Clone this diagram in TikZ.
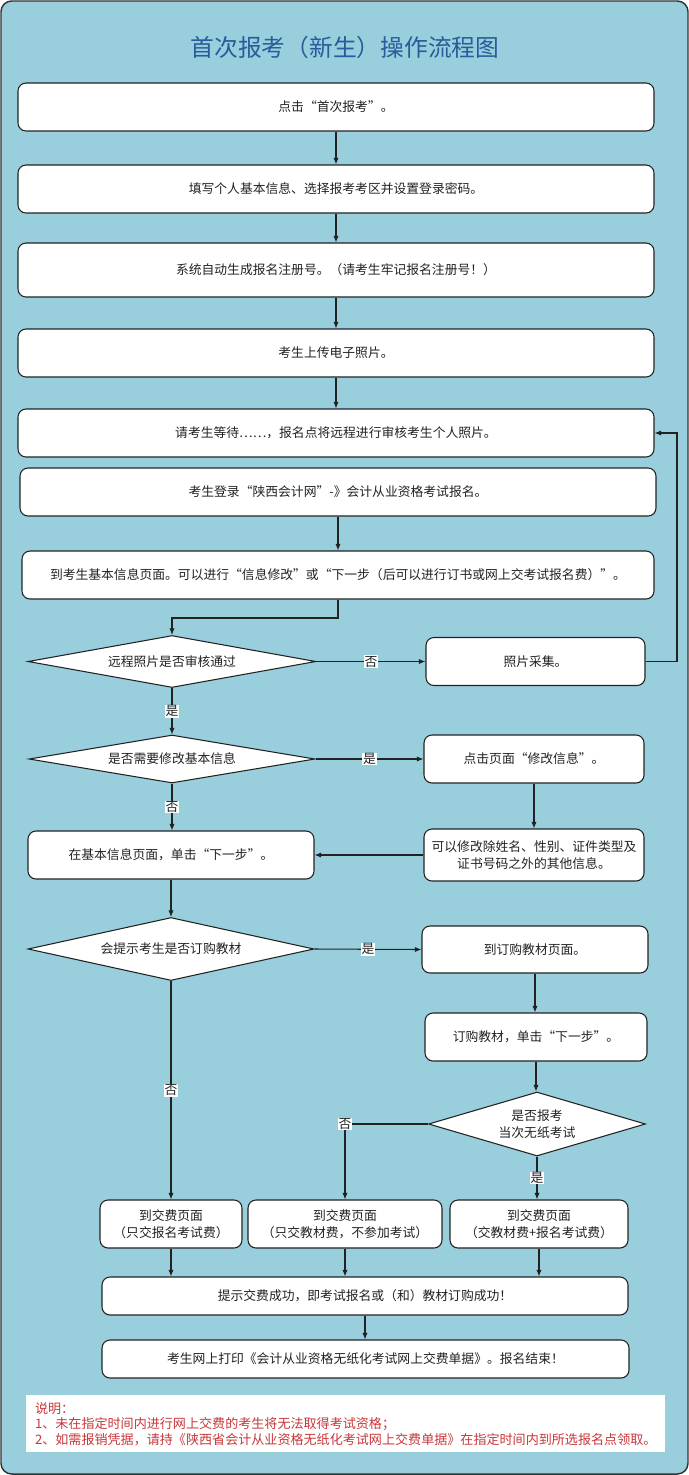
\documentclass[tikz,border=0pt]{standalone}
\usepackage{fontspec}
\setmainfont{Noto Sans CJK SC}
\usetikzlibrary{shapes.geometric,arrows.meta,calc}
\definecolor{bgblue}{HTML}{99CFDD}
\definecolor{titleblue}{HTML}{2A5B9A}
\definecolor{notered}{HTML}{C8373A}
\definecolor{ink}{HTML}{222222}
\begin{document}
\begin{tikzpicture}[x=0.75pt,y=-0.75pt,
  txt/.style={font=\fontsize{9.6}{12.5}\selectfont, text=ink},
  box/.style={txt, draw=ink, fill=white, rounded corners=6pt, line width=0.8pt, inner sep=1pt, align=center},
  dia/.style={txt, draw=ink, fill=white, diamond, inner sep=0pt, line width=0.8pt, align=center},
  arr/.style={-{Latex[length=5pt,width=4pt]}, line width=0.8pt, draw=ink},
  lbl/.style={txt, fill=white, inner sep=0.6pt}]
\useasboundingbox (0,0) rectangle (689,1475);
\draw[fill=bgblue, draw=black!80, line width=1.1pt, rounded corners=8pt] (1,1) rectangle (688,1474);

\node[font=\fontsize{17.8}{20}\selectfont, text=titleblue] (title) at (345,47) {首次报考（新生）操作流程图};

\node[box, minimum width=477pt, minimum height=36pt] (b1) at (336,107) {点击“首次报考”。};
\node[box, minimum width=477pt, minimum height=36pt] (b2) at (336,189) {填写个人基本信息、选择报考考区并设置登录密码。};
\node[box, minimum width=477pt, minimum height=40.5pt] (b3) at (336,270) {系统自动生成报名注册号。（请考生牢记报名注册号！）};
\node[box, minimum width=477pt, minimum height=36pt] (b4) at (336,353) {考生上传电子照片。};
\node[box, minimum width=477pt, minimum height=36pt] (b5) at (336,433) {请考生等待{\addfontfeatures{RawFeature=+fwid}……}，报名点将远程进行审核考生个人照片。};
\node[box, minimum width=477pt, minimum height=36pt] (b6) at (338,492) {考生登录“陕西会计网”-》会计从业资格考试报名。};
\node[box, minimum width=474pt, minimum height=36pt] (b7) at (338,575) {到考生基本信息页面。可以进行“信息修改”或“下一步（后可以进行订书或网上交考试报名费）”。};

\node[dia, aspect=5.5, minimum width=216pt, minimum height=39pt] (d1) at (172,661.5) {远程照片是否审核通过};
\node[box, minimum width=164.25pt, minimum height=36pt] (r1) at (535.5,661.5) {照片采集。};

\node[dia, aspect=5.5, minimum width=214.5pt, minimum height=36pt] (d2) at (172,759) {是否需要修改基本信息};
\node[box, minimum width=165pt, minimum height=36pt] (r2) at (534,759) {点击页面“修改信息”。};
\node[box, minimum width=165pt, minimum height=39pt] (r3) at (534,855) {可以修改除姓名、性别、证件类型及\\证书号码之外的其他信息。};
\node[box, minimum width=214.5pt, minimum height=36pt] (l1) at (171,855) {在基本信息页面，单击“下一步”。};

\node[dia, aspect=4.5, minimum width=214.5pt, minimum height=47.25pt] (d3) at (171,949) {会提示考生是否订购教材};
\node[box, minimum width=169.5pt, minimum height=35.25pt] (r4) at (535,949.5) {到订购教材页面。};
\node[box, minimum width=166.5pt, minimum height=36pt] (r5) at (536,1037) {订购教材，单击“下一步”。};
\node[dia, aspect=3.4, minimum width=162.75pt, minimum height=48pt] (d4) at (537,1124) {是否报考\\当次无纸考试};

\node[box, minimum width=106.5pt, minimum height=36pt] (p1) at (171,1224) {到交费页面\\（只交报名考试费）};
\node[box, minimum width=145.5pt, minimum height=36pt] (p2) at (345,1224) {到交费页面\\（只交教材费，不参加考试）};
\node[box, minimum width=133.5pt, minimum height=36pt] (p3) at (539,1224) {到交费页面\\（交教材费+报名考试费）};

\node[box, minimum width=394.5pt, minimum height=28.5pt] (s1) at (365,1296) {提示交费成功，即考试报名或（和）教材订购成功！};
\node[box, minimum width=395.25pt, minimum height=28.5pt] (s2) at (365.5,1359) {考生网上打印《会计从业资格无纸化考试网上交费单据》。报名结束！};

\node[fill=white, anchor=north west, minimum width=479.25pt, minimum height=42.75pt, inner sep=1.5pt, align=left, text=notered, font=\fontsize{9.8}{11.6}\selectfont] (notes) at (26,1395) {说明：\\1、未在指定时间内进行网上交费的考生将无法取得考试资格；\\2、如需报销凭据，请持《陕西省会计从业资格无纸化考试网上交费单据》在指定时间内到所选报名点领取。};

\coordinate (k1) at (338,618);
\coordinate (k2) at (677,433);

\draw[arr] (b1.south) -- (b2.north);
\draw[arr] (b2.south) -- (b3.north);
\draw[arr] (b3.south) -- (b4.north);
\draw[arr] (b4.south) -- (b5.north);
\draw[arr] (b6.south) -- (b6.south |- b7.north);
\draw[arr] (b7.south) |- (k1) -| (d1.north);
\draw[arr] (d1.east) -- node[lbl] {否} (r1.west);
\draw[arr] (r1.east) -| (k2) -- (b5.east);
\draw[arr] (d1.south) -- node[lbl] {是} (d2.north);
\draw[arr] (d2.east) -- node[lbl] {是} (r2.west);
\draw[arr] (r2.south) -- (r3.north);
\draw[arr] (r3.west) -- (l1.east);
\draw[arr] (d2.south) -- node[lbl] {否} (d2.south |- l1.north);
\draw[arr] (l1.south) -- (d3.north);
\draw[arr] (d3.east) -- node[lbl] {是} (r4.west);
\draw[arr] (r4.south) -- (r4.south |- r5.north);
\draw[arr] (r5.south) -- (r5.south |- d4.north);
\draw[arr] (d4.west) -| node[lbl, pos=0.5] {否} (p2.north);
\draw[arr] (d4.south) -- node[lbl] {是} (d4.south |- p3.north);
\draw[arr] (d3.south) -- node[lbl] {否} (p1.north);
\draw[arr] (p1.south) -- (p1.south |- s1.north);
\draw[arr] (p2.south) -- (p2.south |- s1.north);
\draw[arr] (p3.south) -- (p3.south |- s1.north);
\draw[arr] (s1.south) -- (s1.south |- s2.north);
\end{tikzpicture}
\end{document}
